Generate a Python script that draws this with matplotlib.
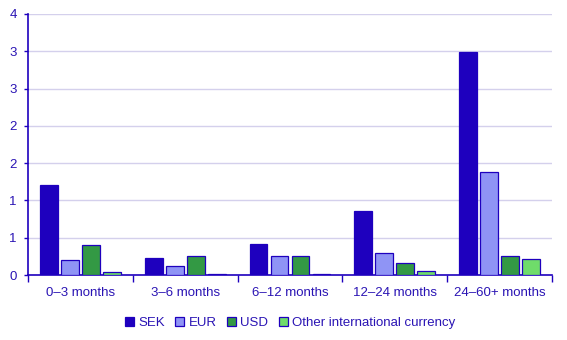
import numpy as np
import matplotlib.pyplot as plt
from matplotlib.ticker import FixedLocator, FixedFormatter

plt.rcParams['font.family'] = ['Liberation Sans', 'DejaVu Sans']

categories = ['0–3 months', '3–6 months', '6–12 months', '12–24 months', '24–60+ months']
series_names = ['SEK', 'EUR', 'USD', 'Other international currency']
sek = [1.21, 0.23, 0.42, 0.86, 2.99]
eur = [0.20, 0.12, 0.25, 0.29, 1.38]
usd = [0.40, 0.26, 0.26, 0.16, 0.26]
other = [0.04, 0.01, 0.02, 0.05, 0.21]
y_ticks = [0, 0.5, 1, 1.5, 2, 2.5, 3, 3.5]
y_tick_labels = ['0', '1', '1', '2', '2', '3', '3', '4']

text_col = '#2a14b4'
edge_col = '#1e00be'
colors = ['#1e00be', '#8f94f5', '#339944', '#6fdc6a']

fig = plt.figure(figsize=(5.67, 3.4), dpi=100)
ax = fig.add_axes([28 / 567, 65 / 340, 524 / 567, 261 / 340])

x = np.arange(len(categories))
width = 0.17
step = 0.2
for i, (name, vals) in enumerate(zip(series_names, [sek, eur, usd, other])):
    ax.bar(x + (i - 1.5) * step, vals, width, color=colors[i], edgecolor=edge_col,
           linewidth=0.9, label=name, zorder=3)

ax.set_xlim(-0.5, len(categories) - 0.5)
ax.set_ylim(0, 3.5)
ax.yaxis.set_major_locator(FixedLocator(y_ticks))
ax.yaxis.set_major_formatter(FixedFormatter(y_tick_labels))
ax.grid(axis='y', color='#d4d0ec', linewidth=1, zorder=0)

ax.set_xticks(x)
ax.set_xticklabels(categories)
ax.set_xticks(np.arange(len(categories) + 1) - 0.5, minor=True)
ax.tick_params(axis='x', which='major', length=0, pad=9, labelsize=9.5, labelcolor=text_col)
ax.tick_params(axis='x', which='minor', length=5, width=1, color=edge_col, direction='out')
ax.tick_params(axis='y', length=3, width=1, color=edge_col, labelsize=9.5, labelcolor=text_col, pad=5)

for s in ['top', 'right']:
    ax.spines[s].set_visible(False)
for s in ['left', 'bottom']:
    ax.spines[s].set_color(edge_col)
    ax.spines[s].set_linewidth(1.2)

leg = ax.legend(loc='upper center', bbox_to_anchor=(0.5, -0.115), ncol=4, frameon=False,
                fontsize=9.5, handlelength=0.7, handleheight=0.7, handletextpad=0.3,
                columnspacing=0.8, labelcolor=text_col)

fig.savefig('out.png', dpi=100)
